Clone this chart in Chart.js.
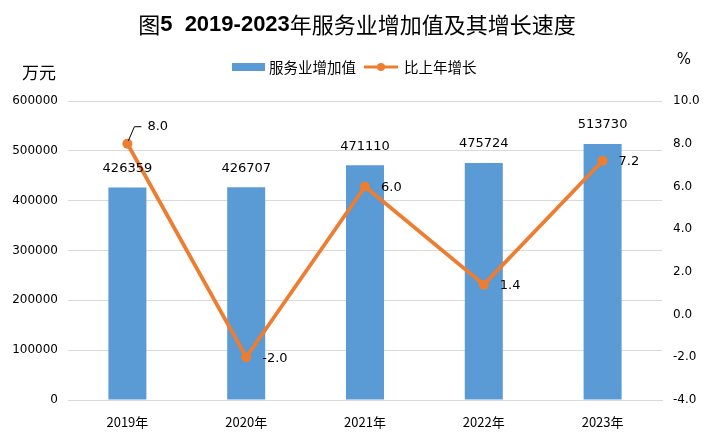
<!DOCTYPE html>
<html>
<head>
<meta charset="utf-8">
<script src="https://cdn.jsdelivr.net/npm/chart.js@4"></script>
<style>
html,body{margin:0;padding:0;background:#fff;}
#wrap{width:714px;height:441px;position:relative;}
</style>
</head>
<body>
<div id="wrap"><canvas id="c" width="714" height="441"></canvas></div>
<script>
const categories = ['2019年','2020年','2021年','2022年','2023年'];
const valueAdded = [426359, 426707, 471110, 475724, 513730];
const growth = [8.0, -2.0, 6.0, 1.4, 7.2];
const barLabel = '服务业增加值';
const lineLabel = '比上年增长';
const titleParts = [['图', 'normal'], ['5  2019-2023', 'bold'], ['年服务业增加值及其增长速度', 'normal']];

const BLUE = '#5B9BD5';
const ORANGE = '#ED7D31';
const CJK = '"Noto Sans CJK SC", "DejaVu Sans", sans-serif';
const NUMF = '"DejaVu Sans", sans-serif';

const decor = {
  id: 'decor',
  afterDraw(chart) {
    const ctx = chart.ctx;
    ctx.save();
    // title
    ctx.textBaseline = 'middle';
    const fontOf = p => (p[1] === 'bold' ? 'bold 22px "Liberation Sans", sans-serif' : '22px ' + CJK);
    let widths = titleParts.map(p => { ctx.font = fontOf(p); return ctx.measureText(p[0]).width; });
    let total = widths.reduce((a, b) => a + b, 0);
    let x = 357 - total / 2;
    ctx.fillStyle = '#000';
    ctx.textAlign = 'left';
    titleParts.forEach((p, i) => { ctx.font = fontOf(p); ctx.fillText(p[0], x, 25); x += widths[i]; });
    // units
    ctx.font = '17px ' + CJK;
    ctx.textAlign = 'center';
    ctx.fillText('万元', 39, 73);
    ctx.font = '15px ' + NUMF;
    ctx.fillText('%', 684, 60);
    // legend
    ctx.fillStyle = BLUE;
    ctx.fillRect(232, 63, 33, 8);
    ctx.fillStyle = '#000';
    ctx.font = '14.5px ' + CJK;
    ctx.textAlign = 'left';
    ctx.fillText(chart.data.datasets[0].label, 269, 67);
    ctx.strokeStyle = ORANGE;
    ctx.lineWidth = 3;
    ctx.beginPath();
    ctx.moveTo(364, 67); ctx.lineTo(398, 67); ctx.stroke();
    ctx.fillStyle = ORANGE;
    ctx.beginPath(); ctx.arc(381, 67, 4, 0, Math.PI * 2); ctx.fill();
    ctx.fillStyle = '#000';
    ctx.fillText(chart.data.datasets[1].label, 404, 67);

    // bar data labels
    ctx.font = '13px ' + NUMF;
    ctx.textAlign = 'center';
    const bm = chart.getDatasetMeta(0);
    bm.data.forEach((el, i) => {
      ctx.fillText(String(chart.data.datasets[0].data[i]), el.x, el.y - 19);
    });
    // line data labels
    const lm = chart.getDatasetMeta(1);
    ctx.textAlign = 'left';
    lm.data.forEach((el, i) => {
      const v = chart.data.datasets[1].data[i].toFixed(1);
      if (i === 0) {
        ctx.strokeStyle = '#000';
        ctx.lineWidth = 1;
        ctx.beginPath();
        ctx.moveTo(el.x + 1, el.y - 3);
        ctx.lineTo(el.x + 7, el.y - 17);
        ctx.lineTo(el.x + 14, el.y - 17);
        ctx.stroke();
        ctx.fillText(v, el.x + 20, el.y - 17);
      } else {
        ctx.fillText(v, el.x + 16, el.y + 1);
      }
    });
    ctx.restore();
  }
};

new Chart(document.getElementById('c'), {
  data: {
    labels: categories,
    datasets: [
      {
        type: 'bar', label: barLabel, data: valueAdded, yAxisID: 'y',
        backgroundColor: BLUE, barPercentage: 0.32, categoryPercentage: 1, order: 1
      },
      {
        type: 'line', label: lineLabel, data: growth, yAxisID: 'y2',
        borderColor: ORANGE, backgroundColor: ORANGE, borderWidth: 3.8,
        pointRadius: 5, pointBackgroundColor: ORANGE, pointBorderWidth: 0,
        tension: 0, order: 0
      }
    ]
  },
  options: {
    responsive: false, animation: false,
    layout: { padding: { top: 101, left: 0, right: 0, bottom: 0 } },
    plugins: { legend: { display: false }, title: { display: false }, tooltip: { enabled: false } },
    scales: {
      x: {
        grid: { display: false }, border: { color: '#D9D9D9' },
        ticks: { font: { size: 13, family: CJK }, color: '#000', padding: 6 },
        afterFit(s) { s.height = 41; }
      },
      y: {
        position: 'left', min: 0, max: 600000,
        ticks: { stepSize: 100000, font: { size: 12, family: NUMF }, color: '#000', padding: 10,
          callback: v => String(v) },
        grid: { color: '#D9D9D9', drawTicks: false }, border: { display: false },
        afterFit(s) { s.width = 68; }
      },
      y2: {
        position: 'right', min: -4, max: 10,
        ticks: { stepSize: 2, font: { size: 12, family: NUMF }, color: '#000', padding: 11,
          callback: v => v.toFixed(1) },
        grid: { display: false, drawTicks: false }, border: { display: false },
        afterFit(s) { s.width = 52; }
      }
    }
  },
  plugins: [decor]
});
</script>
</body>
</html>
